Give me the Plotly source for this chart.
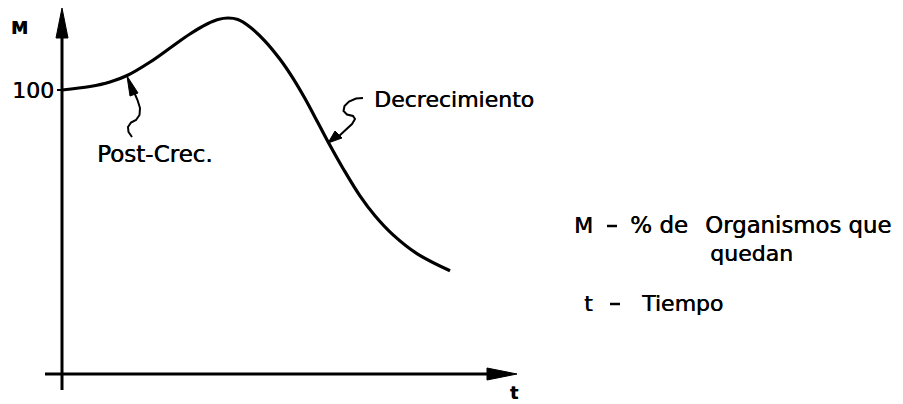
import plotly.graph_objects as go

# ---- data ----
t_vals = [0.0, 0.72, 1.23, 1.67, 2.26, 2.77, 3.28, 3.72, 4.00, 4.26, 4.51, 4.82,
          5.21, 5.59, 5.92, 6.23, 6.56, 6.87, 7.21, 7.64, 8.03, 8.49, 9.10, 9.95]
M_vals = [100.0, 101.23, 102.82, 105.11, 109.86, 114.79, 119.72, 123.24, 124.82, 125.35,
          124.82, 122.18, 117.15, 110.81, 104.19, 97.01, 88.56, 80.53, 72.29, 62.71,
          55.63, 48.98, 42.39, 36.34]
tick_label_M = "100"
tick_value_M = 100
axis_label_y = "M"
axis_label_x = "t"
label_post = "Post-Crec."
label_decr = "Decrecimiento"
legend_symbols = ["M", "t"]
legend_words = ["% de", "Organismos que", "quedan", "Tiempo"]

# The page body has a default 8px margin, so the figure is drawn 8px in from
# the top-left corner of the 903x404 window. Size the figure to fit the rest.
VIEW_W, VIEW_H, BODY_MARGIN = 903, 404, 8
W, H = VIEW_W - BODY_MARGIN, VIEW_H - BODY_MARGIN

# window-pixel geometry of the chart frame
X0PX, Y0PX, Y100PX, PX_PER_T = 62, 374, 90, 39.0
PX_PER_M = (Y0PX - Y100PX) / 100.0

def px(x):
    return (x - BODY_MARGIN) / W

def py(y):
    return 1 - (y - BODY_MARGIN) / H

FONT = "DejaVu Sans"
BLACK = "#000000"
SHADOW = "0.5px 0px 0px #000"

fig = go.Figure()
fig.add_trace(go.Scatter(x=t_vals, y=M_vals, mode="lines",
                         line=dict(color=BLACK, width=3.2, shape="spline", smoothing=1.0),
                         hoverinfo="skip", showlegend=False))

shapes = []
# vertical axis
shapes.append(dict(type="line", xref="paper", yref="paper", x0=px(62), x1=px(62),
                   y0=py(390), y1=py(30), line=dict(color=BLACK, width=3)))
shapes.append(dict(type="path", xref="paper", yref="paper",
                   path=f"M {px(56)} {py(38)} L {px(62)} {py(8)} L {px(68)} {py(38)} Z",
                   fillcolor=BLACK, line=dict(color=BLACK, width=1)))
# horizontal axis
shapes.append(dict(type="line", xref="paper", yref="paper", x0=px(45), x1=px(495),
                   y0=py(374), y1=py(374), line=dict(color=BLACK, width=3)))
shapes.append(dict(type="path", xref="paper", yref="paper",
                   path=f"M {px(487)} {py(368)} L {px(517)} {py(374)} L {px(487)} {py(380)} Z",
                   fillcolor=BLACK, line=dict(color=BLACK, width=1)))
# small tick at 100
shapes.append(dict(type="line", xref="paper", yref="paper", x0=px(57), x1=px(62),
                   y0=py(90), y1=py(90), line=dict(color=BLACK, width=2)))

# leader squiggles
def path_from(pts):
    s = f"M {px(pts[0][0])} {py(pts[0][1])}"
    for a, b in pts[1:]:
        s += f" L {px(a)} {py(b)}"
    return s

post_pts = [(132, 137), (128.5, 132), (128, 127), (131, 122.5), (136, 120), (139.5, 115),
            (140, 108), (137.5, 100), (134, 92)]
decr_pts = [(363, 98), (356, 98.5), (349, 101.5), (344.5, 106), (343.5, 111), (347, 114.5),
            (353, 116), (355, 119), (352, 124), (345, 130.5), (338, 137)]
shapes.append(dict(type="path", xref="paper", yref="paper", path=path_from(post_pts),
                   line=dict(color=BLACK, width=2)))
shapes.append(dict(type="path", xref="paper", yref="paper", path=path_from(decr_pts),
                   line=dict(color=BLACK, width=2)))
# arrowheads of leaders
shapes.append(dict(type="path", xref="paper", yref="paper",
                   path=f"M {px(127)} {py(76)} L {px(130)} {py(96)} L {px(138)} {py(93)} Z",
                   fillcolor=BLACK, line=dict(color=BLACK, width=1)))
shapes.append(dict(type="path", xref="paper", yref="paper",
                   path=f"M {px(328)} {py(143)} L {px(335)} {py(131)} L {px(342)} {py(138)} Z",
                   fillcolor=BLACK, line=dict(color=BLACK, width=1)))
# dashes in the key
shapes.append(dict(type="line", xref="paper", yref="paper", x0=px(607), x1=px(617),
                   y0=py(226), y1=py(226), line=dict(color=BLACK, width=2.5)))
shapes.append(dict(type="line", xref="paper", yref="paper", x0=px(610), x1=px(620),
                   y0=py(304), y1=py(304), line=dict(color=BLACK, width=2.5)))

annotations = [
    dict(text=f"<b>{axis_label_y}</b>", x=px(10), y=py(28), xanchor="left", font=dict(size=17)),
    dict(text=f"<b>{axis_label_x}</b>", x=px(514), y=py(393), font=dict(size=17)),
    dict(text=tick_label_M, x=px(55), y=py(91), xanchor="right", font=dict(size=22)),
    dict(text=label_post, x=px(96), y=py(154), xanchor="left", font=dict(size=23)),
    dict(text=label_decr, x=px(373), y=py(100), xanchor="left", font=dict(size=22)),
    dict(text=legend_symbols[0], x=px(573), y=py(225), xanchor="left", font=dict(size=22)),
    dict(text=legend_words[0], x=px(629), y=py(225), xanchor="left", font=dict(size=23)),
    dict(text=legend_words[1], x=px(704), y=py(225), xanchor="left", font=dict(size=22.8)),
    dict(text=legend_words[2], x=px(709), y=py(253), xanchor="left", font=dict(size=22)),
    dict(text=legend_symbols[1], x=px(583), y=py(303), xanchor="left", font=dict(size=22)),
    dict(text=legend_words[3], x=px(640), y=py(303), xanchor="left", font=dict(size=22)),
]
for a in annotations:
    a.setdefault("xanchor", "center")
    a.update(xref="paper", yref="paper", yanchor="middle", showarrow=False, borderpad=0)
    a["font"].update(family=FONT, color=BLACK, shadow=SHADOW)

x_min = (BODY_MARGIN - X0PX) / PX_PER_T
x_max = (VIEW_W - X0PX) / PX_PER_T
y_max = (Y0PX - BODY_MARGIN) / PX_PER_M
y_min = (Y0PX - VIEW_H) / PX_PER_M

fig.update_layout(
    width=W, height=H, margin=dict(l=0, r=0, t=0, b=0),
    paper_bgcolor="white", plot_bgcolor="white",
    xaxis=dict(range=[x_min, x_max], visible=False, fixedrange=True),
    yaxis=dict(range=[y_min, y_max], visible=False, fixedrange=True,
               tickvals=[tick_value_M]),
    shapes=shapes, annotations=annotations, showlegend=False,
)
fig.write_html("out.html")
